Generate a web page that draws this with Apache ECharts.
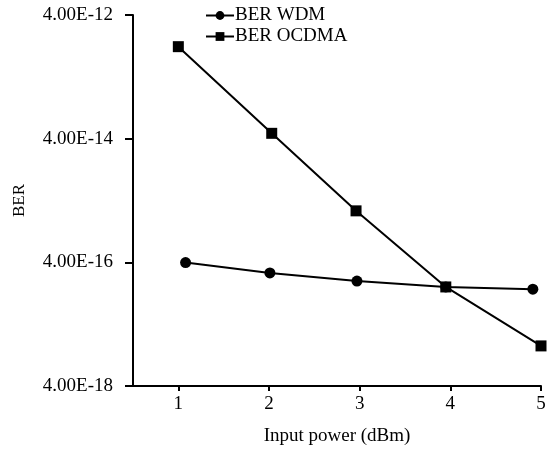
<!DOCTYPE html>
<html>
<head>
<meta charset="utf-8">
<title>BER vs input power</title>
<script src="https://cdn.jsdelivr.net/npm/echarts@6.0.0/dist/echarts.min.js"></script>
<style>
html, body { margin: 0; padding: 0; background: #fff; }
#chart { width: 549px; height: 451px; }
</style>
</head>
<body>
<div id="chart"></div>
<script>
// data
var wdmX = [1.08, 2.01, 2.97, 3.95, 4.91];
var wdmY = [3.97e-16, 2.7e-16, 1.99e-16, 1.6e-16, 1.47e-16];
var ocdmaX = [1, 2.03, 2.96, 3.95, 5];
var ocdmaY = [1.23e-12, 4.88e-14, 2.72e-15, 1.6e-16, 1.78e-17];
var xTicks = [1, 2, 3, 4, 5];
var yTicks = [4e-18, 4e-16, 4e-14, 4e-12];

function pairs(xs, ys) {
  return xs.map(function (x, i) { return [x, ys[i]]; });
}

var chart = echarts.init(document.getElementById('chart'));
var font = 'Liberation Serif';

chart.setOption({
  animation: false,
  textStyle: { fontFamily: font, color: '#000' },
  grid: { left: 133, right: 8, top: 15, bottom: 65 },
  legend: {
    left: 200, top: 1, orient: 'vertical', itemGap: 2,
    itemWidth: 28, itemHeight: 11,
    textStyle: { fontFamily: font, fontSize: 19, color: '#000', padding: [0, 0, 0, -4] },
    data: ['BER WDM', 'BER OCDMA']
  },
  xAxis: {
    type: 'value', min: 0.5, max: 5,
    name: 'Input power (dBm)', nameLocation: 'middle', nameGap: 41,
    nameTextStyle: { fontFamily: font, fontSize: 19, color: '#000' },
    axisLine: { lineStyle: { color: '#000', width: 2 } },
    axisTick: { customValues: xTicks, length: 5, lineStyle: { color: '#000', width: 2 } },
    axisLabel: { customValues: xTicks, margin: 9, fontFamily: font, fontSize: 19, color: '#000' },
    splitLine: { show: false }
  },
  yAxis: {
    type: 'log', min: 4e-18, max: 4e-12,
    name: 'BER', nameLocation: 'middle', nameGap: 105, nameRotate: 90,
    nameTextStyle: { fontFamily: font, fontSize: 17, color: '#000' },
    axisLine: { show: true, lineStyle: { color: '#000', width: 2 } },
    axisTick: { show: true, customValues: yTicks, length: 8, lineStyle: { color: '#000', width: 2 } },
    axisLabel: {
      customValues: yTicks, margin: 20, fontFamily: font, fontSize: 19, color: '#000',
      formatter: function (v) { return Number(v).toExponential(2).toUpperCase(); }
    },
    splitLine: { show: false }
  },
  series: [
    {
      name: 'BER WDM', type: 'line', data: pairs(wdmX, wdmY),
      symbol: 'circle', symbolSize: 11,
      lineStyle: { color: '#000', width: 2 },
      itemStyle: { color: '#000' }
    },
    {
      name: 'BER OCDMA', type: 'line', data: pairs(ocdmaX, ocdmaY),
      symbol: 'rect', symbolSize: 11,
      lineStyle: { color: '#000', width: 2 },
      itemStyle: { color: '#000' }
    }
  ]
});
</script>
</body>
</html>
